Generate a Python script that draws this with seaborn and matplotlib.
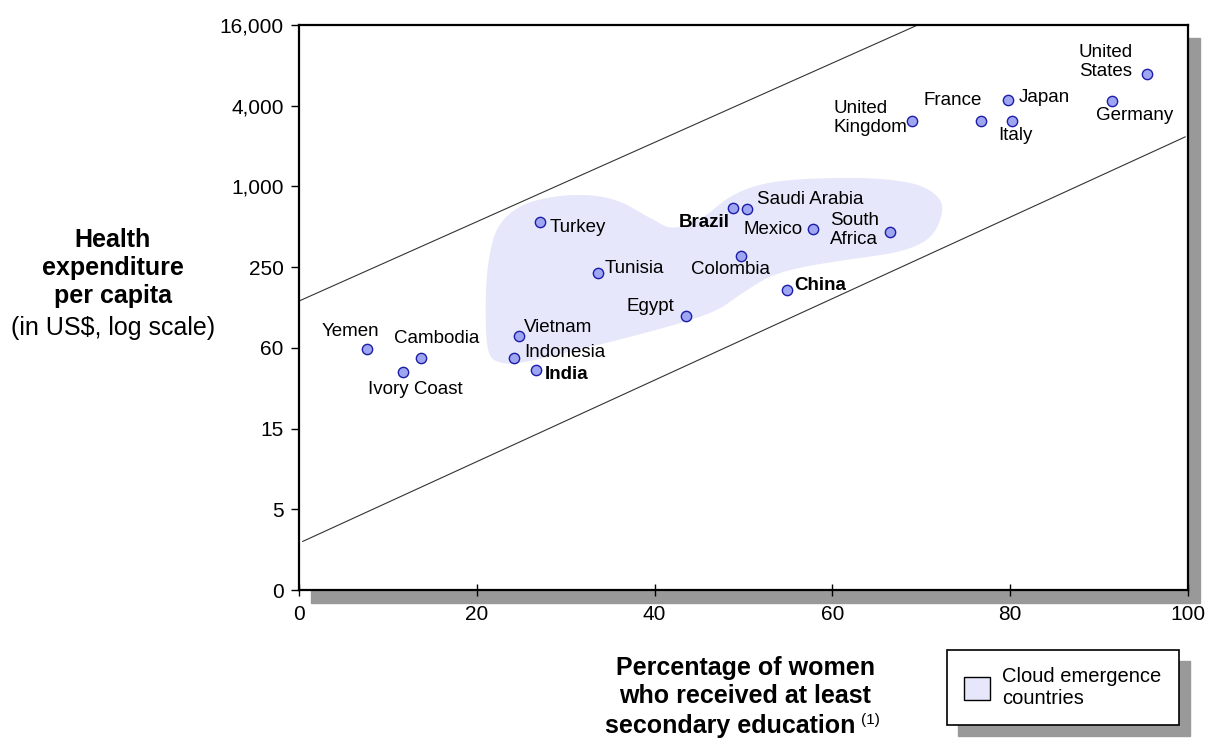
import numpy as np
import pandas as pd
import seaborn as sns
import matplotlib.pyplot as plt
from matplotlib.patches import Rectangle, Patch
from matplotlib.ticker import NullLocator

# countries: share of women with at least secondary education (%), health expenditure per capita (US$)
COUNTRIES = [
    'Yemen', 'Cambodia', 'Ivory Coast', 'Vietnam', 'Indonesia', 'India',
    'Turkey', 'Tunisia', 'Egypt', 'Brazil', 'Saudi Arabia', 'Mexico',
    'Colombia', 'South\nAfrica', 'China', 'United\nKingdom', 'France',
    'Japan', 'Italy', 'United\nStates', 'Germany'
]
WOMEN_EDU_PCT = [
    7.7, 13.7, 11.7, 24.7, 24.2, 26.7,
    27.1, 33.6, 43.5, 48.8, 50.4, 57.8,
    49.7, 66.5, 54.9, 69.0, 76.7,
    79.8, 80.2, 95.4, 91.4
]
HEALTH_EXP_USD = [
    63, 54, 42, 78, 54, 44,
    556, 232, 111, 707, 695, 493,
    310, 468, 173, 3155, 3155,
    4520, 3155, 7070, 4450
]
BOLD_COUNTRIES = ['India', 'Brazil', 'China']

Y_TICK_LABELS = ['0', '5', '15', '60', '250', '1,000', '4,000', '16,000']
X_TICKS = [0, 20, 40, 60, 80, 100]

# the two guide lines (pct, US$) end points
UPPER_LINE_PCT = [0, 69.6]
UPPER_LINE_USD = [143, 16384]
LOWER_LINE_PCT = [0.4, 99.7]
LOWER_LINE_USD = [2.3, 2400]

# outline of the "cloud" of emerging countries
CLOUD_PCT = [21.0, 21.3, 22.4, 24.9, 28.6, 32.7, 36.1, 39.5, 42.1, 45.4,
             48.5, 51.9, 56.7, 64.2, 69.5, 72.1, 72.1, 70.6, 67.3, 61.6,
             56.7, 53.0, 49.9, 47.0, 42.9, 36.1, 30.5, 25.2, 22.6, 21.3]
CLOUD_USD = [123, 274, 505, 724, 855, 879, 786, 596, 505, 604,
             855, 1053, 1160, 1176, 1053, 809, 572, 410, 333, 290,
             256, 217, 164, 123, 98, 74, 60, 50, 50, 61]

# label placement: (ha, dx px, dy px)
LABEL_POS = {
    'Yemen': ('center', -17, 17), 'Cambodia': ('center', 16, 19),
    'Ivory Coast': ('center', 12, -17), 'Vietnam': ('left', 5, 9),
    'Indonesia': ('left', 10, 5), 'India': ('left', 8, -5),
    'Turkey': ('left', 10, -6), 'Tunisia': ('left', 7, 4),
    'Egypt': ('right', -11, 9), 'Brazil': ('right', -3, -15),
    'Saudi Arabia': ('left', 10, 9), 'Mexico': ('right', -10, -1),
    'Colombia': ('center', -10, -14), 'South\nAfrica': ('right', -11, 2),
    'China': ('left', 7, 4), 'United\nKingdom': ('right', -5, 3),
    'France': ('center', -28, 20), 'Japan': ('left', 10, 2),
    'Italy': ('center', 3, -15), 'United\nStates': ('right', -14, 12),
    'Germany': ('center', 23, -15),
}

CLOUD_COLOR = '#e6e7fa'
SHADOW_COLOR = '#999999'
W, H = 1213, 738


def smooth_closed(xs, ys, n=20):
    # closed Catmull-Rom spline through the outline points
    pts = np.column_stack([xs, ys])
    out = []
    m = len(pts)
    for i in range(m):
        p0, p1, p2, p3 = pts[i - 1], pts[i], pts[(i + 1) % m], pts[(i + 2) % m]
        for t in np.linspace(0, 1, n, endpoint=False):
            t2, t3 = t * t, t * t * t
            out.append(0.5 * ((2 * p1) + (-p0 + p2) * t +
                              (2 * p0 - 5 * p1 + 4 * p2 - p3) * t2 +
                              (-p0 + 3 * p1 - 3 * p2 + p3) * t3))
    out = np.array(out)
    return out[:, 0], out[:, 1]


sns.set_style('white')
plt.rcParams['font.family'] = ['Liberation Sans', 'DejaVu Sans']
plt.rcParams.update({'text.color': 'black', 'axes.labelcolor': 'black',
                     'xtick.color': 'black', 'ytick.color': 'black'})

df = pd.DataFrame({'country': COUNTRIES, 'pct': WOMEN_EDU_PCT, 'usd': HEALTH_EXP_USD})

fig = plt.figure(figsize=(W / 100, H / 100), dpi=100)
ax_l, ax_b = 299 / W, 1 - 590 / H
ax_w, ax_h = (1188 - 299) / W, 565 / H
ax = fig.add_axes([ax_l, ax_b, ax_w, ax_h])

# frame shadow
fig.add_artist(Rectangle((ax_l + 12 / W, ax_b - 13 / H), ax_w, ax_h,
                         transform=fig.transFigure, color=SHADOW_COLOR, zorder=-1))

ax.set_yscale('log', base=4)
ax.set_xlim(0, 100)
ax.set_ylim(1, 4 ** 7)

# cloud
cx, cy = smooth_closed(np.array(CLOUD_PCT), np.log(CLOUD_USD) / np.log(4))
ax.fill(cx, 4 ** cy, color=CLOUD_COLOR, lw=0, zorder=1)

ax.plot(UPPER_LINE_PCT, UPPER_LINE_USD, color='#333333', lw=0.8, zorder=2)
ax.plot(LOWER_LINE_PCT, LOWER_LINE_USD, color='#333333', lw=0.8, zorder=2)

sns.scatterplot(data=df, x='pct', y='usd', ax=ax, s=55, color='#9ea6f2',
                edgecolor='#1c1ca8', linewidth=1, zorder=3, legend=False)

for name, x, y in zip(COUNTRIES, WOMEN_EDU_PCT, HEALTH_EXP_USD):
    ha, dx, dy = LABEL_POS[name]
    ax.annotate(name, (x, y), xytext=(dx, dy), textcoords='offset pixels',
                ha=ha, va='center', ma='left', fontsize=13.5, linespacing=1.2,
                fontweight='bold' if name in BOLD_COUNTRIES else 'normal', zorder=4)

ax.set_yticks([4 ** k for k in range(8)])
ax.set_yticklabels(Y_TICK_LABELS)
ax.yaxis.set_minor_locator(NullLocator())
ax.set_xticks(X_TICKS)
ax.tick_params(axis='y', direction='out', length=6, width=1, pad=5, labelsize=15, left=True)
ax.tick_params(axis='x', direction='inout', length=8, width=1, pad=7, labelsize=15, bottom=True)
ax.set_xlabel('')
ax.set_ylabel('')
for sp in ax.spines.values():
    sp.set_linewidth(1.6)
    sp.set_color('black')

# y-axis title
fig.text(113 / W, 1 - 268 / H, 'Health\nexpenditure\nper capita', ha='center', va='center',
         fontsize=18, fontweight='bold', linespacing=1.2)
fig.text(113 / W, 1 - 328 / H, '(in US$, log scale)', ha='center', va='center', fontsize=18)

# x-axis title
fig.text(745 / W, 1 - 682 / H, 'Percentage of women\nwho received at least', ha='center',
         va='center', fontsize=18, fontweight='bold', linespacing=1.2)
t3 = fig.text(730 / W, 1 - 726 / H, 'secondary education', ha='center', va='center',
              fontsize=18, fontweight='bold')
ax.annotate('(1)', xy=(1, 0.75), xycoords=t3, xytext=(6, 0), textcoords='offset pixels',
            ha='left', va='center', fontsize=11, annotation_clip=False)

# legend with drop shadow
leg = fig.legend(handles=[Patch(facecolor=CLOUD_COLOR, edgecolor='black', lw=1)],
                 labels=['Cloud emergence\ncountries'], loc='upper left',
                 bbox_to_anchor=(947 / W, 1 - 650 / H), borderaxespad=0, fontsize=14.5,
                 frameon=True, fancybox=False, framealpha=1, edgecolor='black',
                 borderpad=0.85, handlelength=1.3, handleheight=1.35, handletextpad=0.6)
leg.get_frame().set_linewidth(1.2)
leg.set_zorder(6)
fig.canvas.draw()
bb = leg.get_window_extent().transformed(fig.transFigure.inverted())
fig.add_artist(Rectangle((bb.x0 + 11 / W, bb.y0 - 11 / H), bb.width, bb.height,
                         transform=fig.transFigure, color=SHADOW_COLOR, zorder=5))

fig.savefig('out.png', dpi=100)
